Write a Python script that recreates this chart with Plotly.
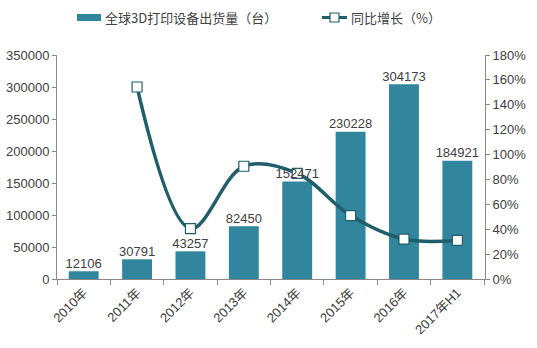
import plotly.graph_objects as go

categories = ["2010年", "2011年", "2012年", "2013年", "2014年", "2015年", "2016年", "2017年H1"]
shipments = [12106, 30791, 43257, 82450, 152471, 230228, 304173, 184921]
growth_cats = ["2011年", "2012年", "2013年", "2014年", "2015年", "2016年", "2017年H1"]
growth = [154.3, 40.5, 90.6, 84.9, 51.0, 32.1, 31.0]
left_ticks = [0, 50000, 100000, 150000, 200000, 250000, 300000, 350000]
right_ticks = [0, 20, 40, 60, 80, 100, 120, 140, 160, 180]
bar_name = "全球3D打印设备出货量（台）"
line_name = "同比增长（%）"

W, H = 537, 348
L, R, T, B = 57, 52, 55, 69
font_family = "Liberation Sans, Arial, Noto Sans CJK SC"
txt = "#404040"
bar_color = "#31859C"
line_color = "#215E6B"

def px(x):
    return (x - L) / (W - L - R)

def py(y):
    return (H - B - y) / (H - T - B)

fig = go.Figure()
fig.add_trace(go.Bar(
    x=categories, y=shipments, name=bar_name,
    marker=dict(color=bar_color, line=dict(width=0)), width=0.56,
    showlegend=False,
))
fig.add_trace(go.Scatter(
    x=growth_cats, y=growth, name=line_name, yaxis="y2",
    mode="lines+markers", line=dict(color=line_color, width=3.5, shape="spline", smoothing=1.0),
    marker=dict(symbol="square", size=10, color="white", line=dict(color=line_color, width=1.2)),
    showlegend=False,
))
# bar value labels drawn on top of the line (overlay axis with same scale as y)
fig.add_trace(go.Scatter(
    x=categories, y=shipments, yaxis="y3", mode="text", text=[str(v) for v in shipments],
    textposition="top center", textfont=dict(size=13, color=txt),
    cliponaxis=False, showlegend=False, hoverinfo="skip",
))

# custom legend
shapes = [
    dict(type="rect", xref="paper", yref="paper", x0=px(77), x1=px(101), y0=py(21), y1=py(14),
         fillcolor=bar_color, line=dict(width=0)),
    dict(type="line", xref="paper", yref="paper", x0=px(322), x1=px(347), y0=py(17.5), y1=py(17.5),
         line=dict(color=line_color, width=3)),
    dict(type="rect", xref="paper", yref="paper", x0=px(330), x1=px(339), y0=py(22), y1=py(13),
         fillcolor="white", line=dict(color=line_color, width=1.2)),
]
annotations = [
    dict(text=bar_name, xref="paper", yref="paper", x=px(103), y=py(17.5), xanchor="left",
         yanchor="middle", showarrow=False, font=dict(family="Noto Sans CJK SC", size=13, color=txt)),
    dict(text=line_name, xref="paper", yref="paper", x=px(349), y=py(17.5), xanchor="left",
         yanchor="middle", showarrow=False, font=dict(family="Noto Sans CJK SC", size=13, color=txt)),
]

fig.update_layout(
    width=W, height=H,
    margin=dict(l=L, r=R, t=T, b=B, autoexpand=False),
    paper_bgcolor="white", plot_bgcolor="white",
    font=dict(family=font_family, size=13, color=txt),
    showlegend=False,
    shapes=shapes, annotations=annotations,
    xaxis=dict(type="category", showline=True, linecolor="#888888", linewidth=1,
               ticks="outside", tickson="boundaries", ticklen=5, tickcolor="#888888",
               tickangle=-45, tickfont=dict(size=13, color=txt), showgrid=False),
    yaxis=dict(range=[0, 350000], tickvals=left_ticks, ticktext=[str(v) for v in left_ticks],
               showline=True, linecolor="#888888", linewidth=1, ticks="outside", ticklen=4,
               tickcolor="#888888", showgrid=False, zeroline=False,
               tickfont=dict(size=13, color=txt)),
    yaxis2=dict(range=[0, 180], tickvals=right_ticks, ticktext=[f"{v}%" for v in right_ticks],
                overlaying="y", side="right", showline=True, linecolor="#888888", linewidth=1,
                ticks="outside", ticklen=4, tickcolor="#888888", showgrid=False, zeroline=False,
                tickfont=dict(size=13, color=txt)),
    yaxis3=dict(range=[0, 350000], overlaying="y", visible=False, showgrid=False, zeroline=False),
)

fig.write_html("out.html")
